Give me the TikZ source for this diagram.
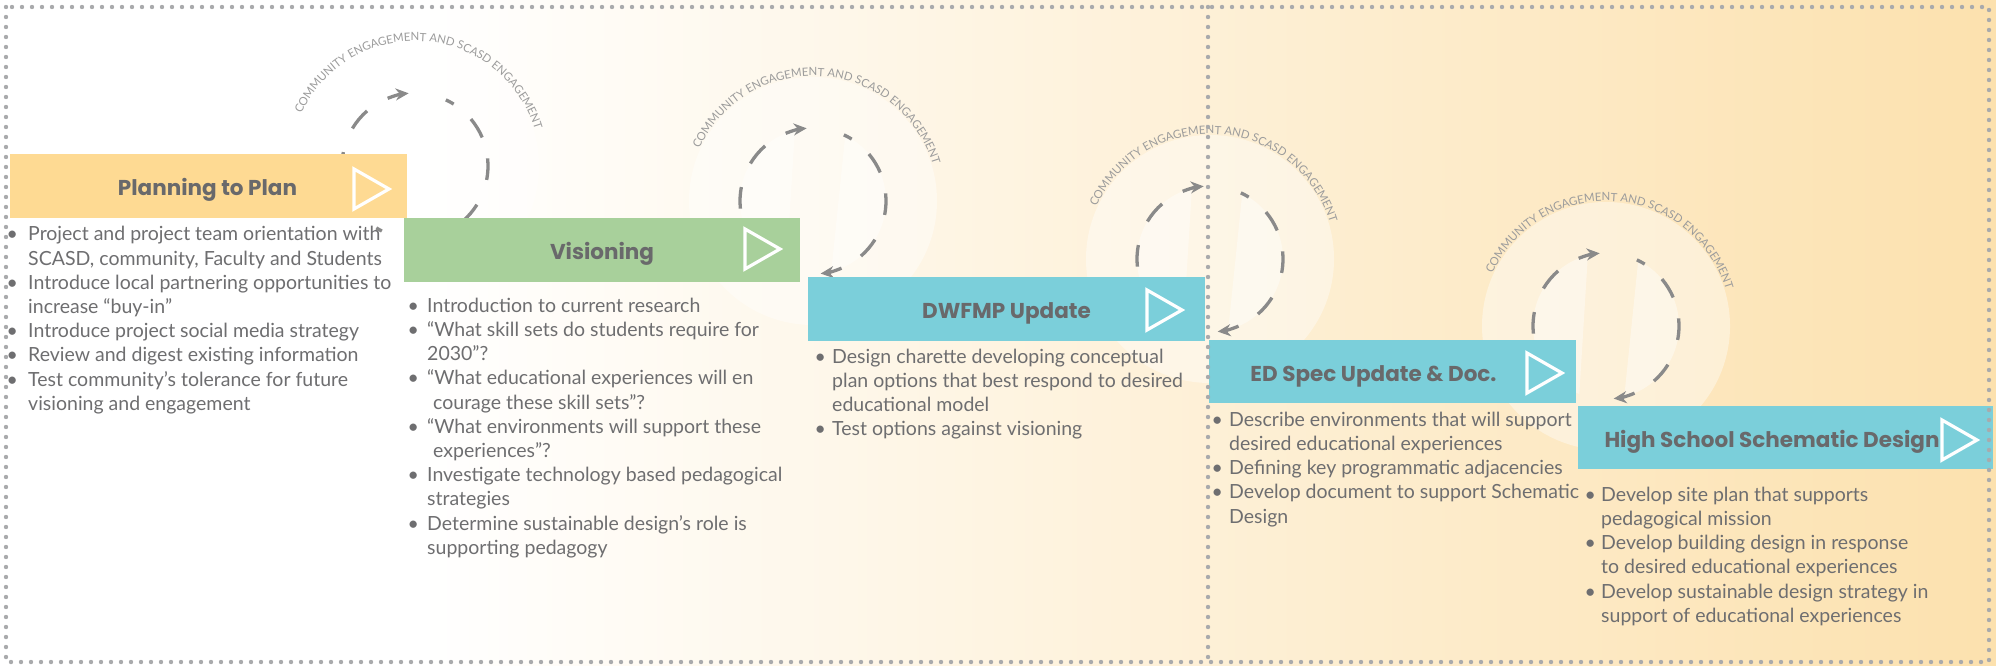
\documentclass[tikz,border=0pt]{standalone}
\usepackage{fontspec}
\setmainfont{Lato}
\newfontfamily\titlefont{Poppins}
\usetikzlibrary{arrows.meta,decorations.text}

\definecolor{planfill}{HTML}{FEDA93}
\definecolor{visfill}{HTML}{A8D09B}
\definecolor{cyanfill}{HTML}{7BCFDA}
\definecolor{titlegray}{HTML}{69696B}
\definecolor{bodygray}{HTML}{6E6E70}
\definecolor{dotgray}{HTML}{A9AAAC}
\definecolor{dashgray}{HTML}{8A8A8A}
\definecolor{arcgray}{HTML}{9C9C9C}
\definecolor{bgmid}{HTML}{FEF1DA}
\definecolor{bgright}{HTML}{FCE1AE}

% bullet glyph hung to the left of the text column, centred #1/2 left of it
\newcommand\bul[1]{\rule{0pt}{17pt}\llap{\makebox[#1][c]{•}}}
\newcommand\arcfont{\fontsize{11.4}{12}\selectfont}

% one engagement loop: centre (#1,#2)
\newcommand\engagementloop[2]{%
  \begin{scope}[shift={(#1,#2)}, y=1pt]
    \fill[white, opacity=0.4] (0,0) circle[radius=124];
    \begin{scope}
      \clip (0,0) circle[radius=73];
      \fill[white, opacity=0.4] (-80,80) -- (-18,73) -- (-27,-73) -- (-80,-80) -- cycle;
      \fill[white, opacity=0.4] (33,73) -- (80,80) -- (80,-80) -- (18,-73) -- cycle;
    \end{scope}
    % right half, running down
    \foreach \a/\b in {65/58, 40/23, 6/-11, -32/-49}
      \draw[loopdash] (\a:73) arc[start angle=\a, end angle=\b, radius=73];
    \draw[looparrow] (-67:73) arc[start angle=-67, end angle=-84, radius=73];
    % left half, running up
    \foreach \a/\b in {243/238, 222/205, 186/169, 149/131}
      \draw[loopdash] (\a:73) arc[start angle=\a, end angle=\b, radius=73];
    \draw[looparrow] (112:73) arc[start angle=112, end angle=95, radius=73];
    % caption along the top
    \path[decorate, decoration={text along path, text align=center, text color=arcgray,
      text={|\arcfont|COMMUNITY ENGAGEMENT AND SCASD ENGAGEMENT}}]
      (176:125) arc[start angle=176, end angle=-4, radius=125];
  \end{scope}}

\begin{document}
\begin{tikzpicture}[x=1pt, y=-1pt,
  stagebox/.style={draw=none, inner sep=0pt, outer sep=0pt, anchor=north west},
  stagetitle/.style={font=\titlefont\bfseries\fontsize{21.5}{24}\selectfont, text=titlegray, anchor=base, inner sep=0pt},
  bulletlist/.style={font=\fontsize{19.5}{24.2}\selectfont, text=bodygray, align=left, anchor=north west, inner sep=0pt},
  playmark/.style={draw=white, line width=3.2pt, line join=miter},
  loopdash/.style={draw=dashgray, line width=3.3pt},
  looparrow/.style={loopdash, -{Stealth[length=13pt, width=12pt]}},
  dotline/.style={draw=dotgray, line width=4.4pt, line cap=round, dash pattern=on 0pt off 10pt},
]
\useasboundingbox (0,0) rectangle (1996,666);

% background wash
\fill[white] (0,0) rectangle (1996,666);
\shade[left color=white, middle color=bgmid, right color=bgright] (420,0) rectangle (1996,666);

% engagement loops
\engagementloop{415}{166}
\engagementloop{813}{201}
\engagementloop{1210}{259}
\engagementloop{1606}{326}

% stage bars
\node[stagebox, fill=planfill, minimum width=397pt, minimum height=64pt] (plan) at (10,154) {};
\node[stagebox, fill=visfill, minimum width=396pt, minimum height=64pt] (vis) at (404,218) {};
\node[stagebox, fill=cyanfill, minimum width=397pt, minimum height=64pt] (dwf) at (808,277) {};
\node[stagebox, fill=cyanfill, minimum width=367pt, minimum height=63pt] (ed) at (1209,340) {};
\node[stagebox, fill=cyanfill, minimum width=415pt, minimum height=63pt] (hs) at (1578,406) {};

% stage titles
\node[stagetitle] (plantitle) at ([xshift=-1pt, yshift=-9.5pt]plan.center) {Planning to Plan};
\node[stagetitle] (vistitle) at ([yshift=-9.5pt]vis.center) {Visioning};
\node[stagetitle] (dwftitle) at ([yshift=-9.5pt]dwf.center) {DWFMP Update};
\node[stagetitle] (edtitle) at ([xshift=-19pt, yshift=-9.5pt]ed.center) {ED Spec Update \& Doc.};
\node[stagetitle] (hstitle) at ([xshift=-13.5pt, yshift=-9.5pt]hs.center) {High School Schematic Design};

% play marks: node, inset of tip, downward offset
\foreach \n/\t/\c in {plan/18/3, vis/20/-1, dwf/23/1, ed/14/1.5, hs/16/2.5}
  \draw[playmark] ([xshift={-(\t+35)*1pt}, yshift={(20-\c)*1pt}]\n.east)
    -- ([xshift={-\t*1pt}, yshift={-\c*1pt}]\n.east)
    -- ([xshift={-(\t+35)*1pt}, yshift={(-20-\c)*1pt}]\n.east) -- cycle;

% task lists
\node[bulletlist] (planlist) at (28,223.7) {%
\bul{32pt}Project and project team orientation with\\
SCASD, community, Faculty and Students\\
\bul{32pt}Introduce local partnering opportunities to\\
increase “buy-in”\\
\bul{32pt}Introduce project social media strategy\\
\bul{32pt}Review and digest existing information\\
\bul{32pt}Test community’s tolerance for future\\
visioning and engagement};

\node[bulletlist] (vislist) at (427,295) {%
\bul{28pt}Introduction to current research\\
\bul{28pt}“What skill sets do students require for\\
2030”?\\
\bul{28pt}“What educational experiences will en\\
\hspace*{6pt}courage these skill sets”?\\
\bul{28pt}“What environments will support these\\
\hspace*{6pt}experiences”?\\
\bul{28pt}Investigate technology based pedagogical\\
strategies\\
\bul{28pt}Determine sustainable design’s role is\\
supporting pedagogy};

\node[bulletlist] (dwflist) at (832,346) {%
\bul{24pt}Design charette developing conceptual\\
plan options that best respond to desired\\
educational model\\
\bul{24pt}Test options against visioning};

\node[bulletlist] (edlist) at (1229,409) {%
\bul{24pt}Describe environments that will support\\
desired educational experiences\\
\bul{24pt}Defining key programmatic adjacencies\\
\bul{24pt}Develop document to support Schematic\\
Design};

\node[bulletlist] (hslist) at (1601,484) {%
\bul{22pt}Develop site plan that supports\\
pedagogical mission\\
\bul{22pt}Develop building design in response\\
to desired educational experiences\\
\bul{22pt}Develop sustainable design strategy in\\
support of educational experiences};

% dotted frame and phase divider
\draw[dotline] (6,7) rectangle (1989,662);
\draw[dotline] (1208,7) -- (1208,662);
\end{tikzpicture}
\end{document}
